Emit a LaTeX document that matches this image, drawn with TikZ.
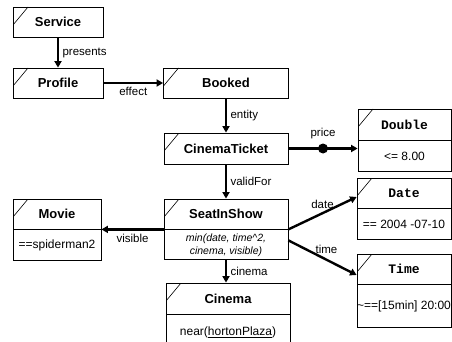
\documentclass[tikz,border=0pt]{standalone}
\usepackage{fontspec}
\setmainfont{Liberation Sans}
\setmonofont{Liberation Mono}
\usetikzlibrary{arrows.meta, positioning, calc}

\begin{document}
\begin{tikzpicture}[x=1pt, y=-1pt, > = {Triangle[length=6.5pt,width=7pt]},
    head/.style = {draw, line width=0.8pt, minimum height=30pt, inner sep=0pt, font=\fontsize{13}{15}\selectfont\bfseries,
      path picture = {\draw[line width=0.6pt] ([yshift=-18pt]path picture bounding box.north west) -- ([xshift=15pt]path picture bounding box.north west);}},
    body/.style = {draw, line width=0.8pt, minimum height=31pt, inner sep=0pt, font=\fontsize{12}{14}\selectfont},
    link/.style = {->, line width=2.4pt},
    lbl/.style = {font=\fontsize{11.5}{13}\selectfont},
    tthead/.style = {head, font=\fontsize{13}{15}\selectfont\ttfamily\bfseries}]
    \useasboundingbox (0,0) rectangle (452,342);

    \node[head, minimum width=90pt] (service) at (58,22) {Service};
    \node[head, minimum width=90pt] (profile) at (58,83) {Profile};
    \node[head, minimum width=125pt] (booked) at (226,83) {Booked};
    \node[head, minimum width=124pt, minimum height=31pt] (ticket) at (226,148.5) {CinemaTicket};

    \node[tthead, minimum width=93pt, minimum height=31pt] (doubleH) at (404.5,124.5) {Double};
    \node[body, minimum width=93pt, below=0pt of doubleH] (doubleB) {<= 8.00};

    \node[head, minimum width=124pt] (sisH) at (226,214) {SeatInShow};
    \node[body, minimum width=124pt, minimum height=30pt, align=center, font=\fontsize{10.5}{13}\selectfont\itshape, below=0pt of sisH] (sisB) {min(date, time\textasciicircum 2,\\cinema, visible)};

    \node[head, minimum width=88pt] (movieH) at (57,214) {Movie};
    \node[body, minimum width=88pt, below=0pt of movieH] (movieB) {==spiderman2};

    \node[tthead, minimum width=94pt] (dateH) at (404,193) {Date};
    \node[body, minimum width=94pt, below=0pt of dateH] (dateB) {== 2004 -07-10};

    \node[tthead, minimum width=94pt] (timeH) at (404,269) {Time};
    \node[body, minimum width=94pt, minimum height=43pt, below=0pt of timeH] (timeB) {\textasciitilde==[15min] 20:00};

    \node[head, minimum width=124pt, minimum height=31pt] (cinH) at (228,298.5) {Cinema};
    \node[body, minimum width=124pt, minimum height=36pt, below=0pt of cinH] (cinB) {near(\underline{hortonPlaza})};

    \draw[link] (service) -- node[lbl, right] {presents} (profile);
    \draw[link] (profile) -- node[lbl, below] {effect} (booked);
    \draw[link] (booked) -- node[lbl, right] {entity} (ticket);
    \draw[link] (ticket.east) -- node[circle, fill, inner sep=0pt, minimum size=10pt] (priceDot) {} node[lbl, above=5pt] {price} (ticket.east -| doubleH.west);
    \draw[link] (ticket) -- node[lbl, right] {validFor} (sisH);
    \draw[link] (sisH.south west) -- node[lbl, below] {visible} (movieH.south east);
    \draw[link] (sisH.south east) -- node[lbl, above] {date} ([yshift=-4pt]dateH.west);
    \draw[link] ([yshift=-11pt]sisB.north east) -- node[lbl, above, xshift=4pt] {time} ([yshift=-6pt]timeH.west);
    \draw[link] (sisB.south) -- node[lbl, right] {cinema} (sisB.south |- cinH.north);
\end{tikzpicture}
\end{document}
